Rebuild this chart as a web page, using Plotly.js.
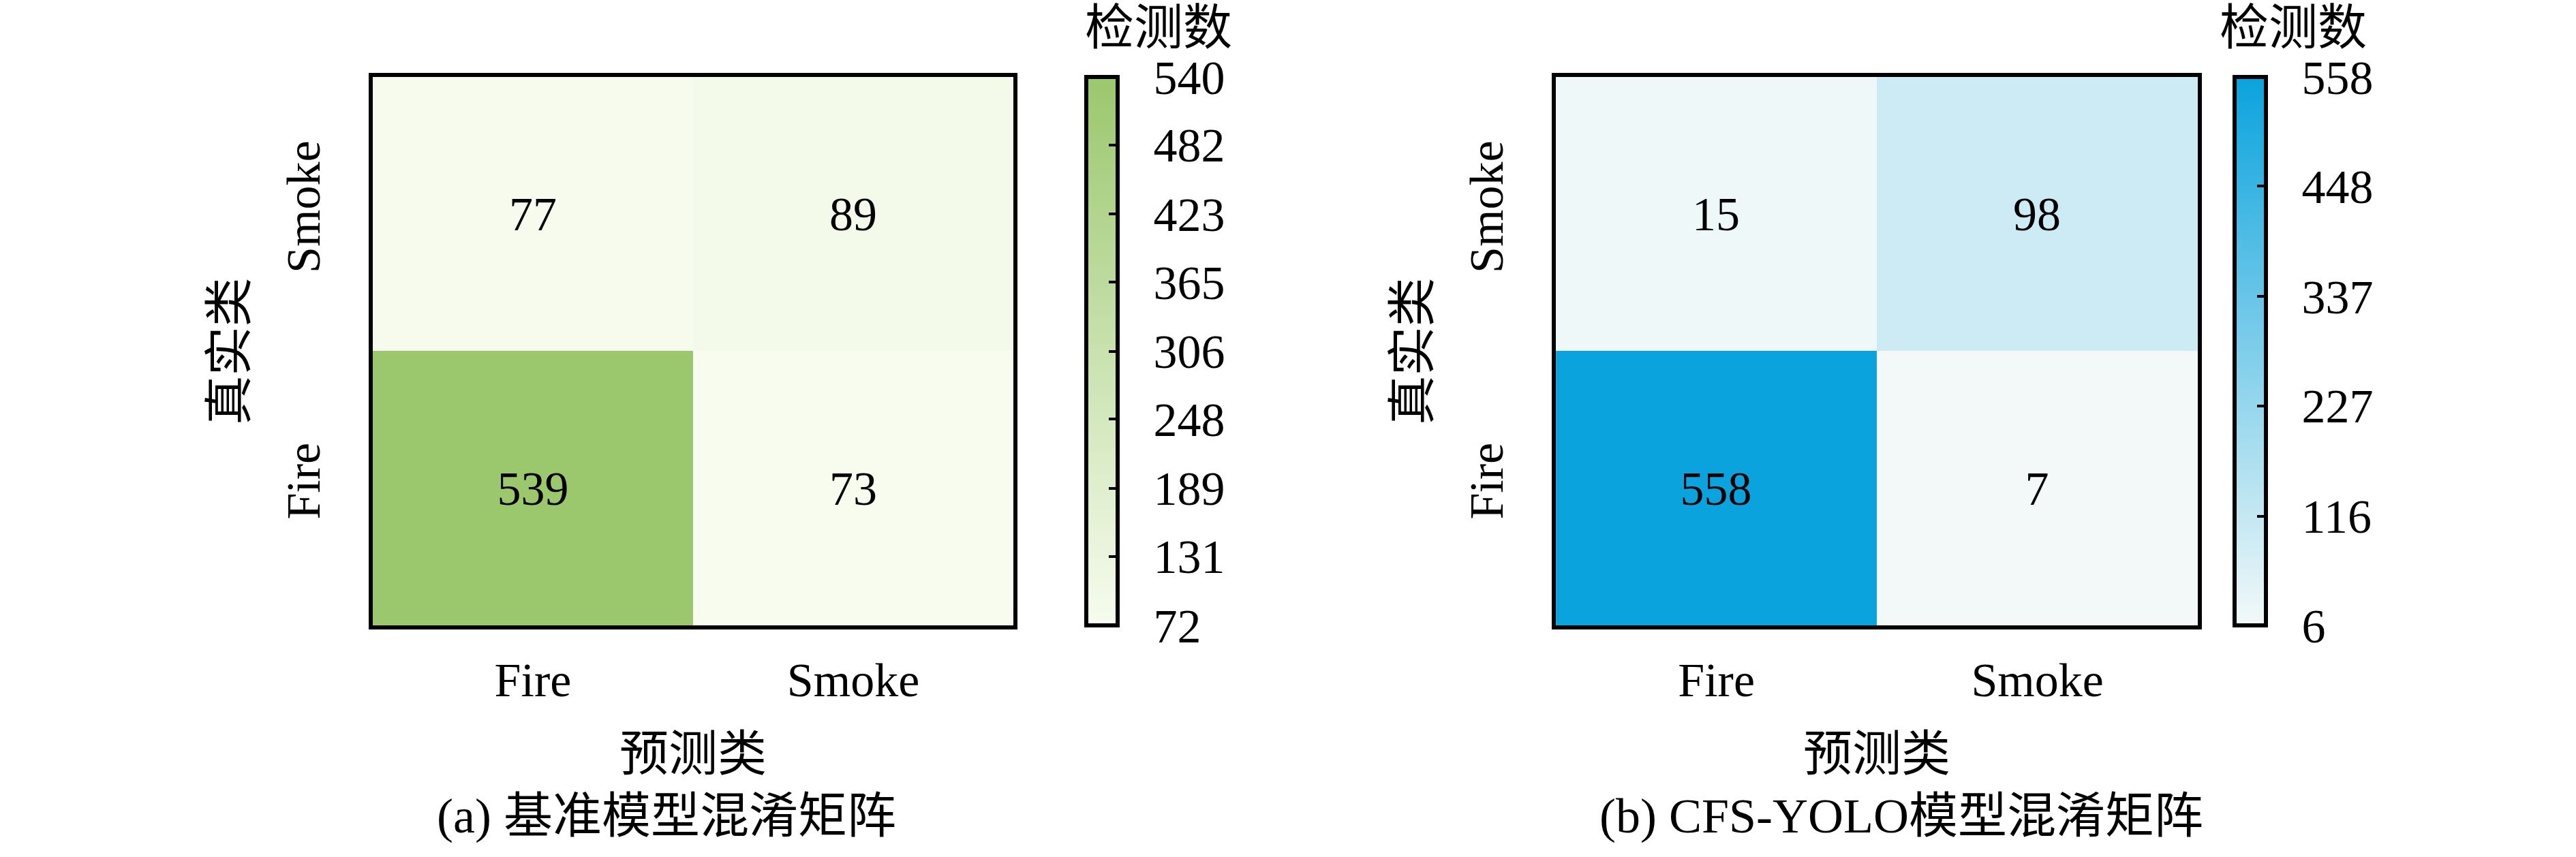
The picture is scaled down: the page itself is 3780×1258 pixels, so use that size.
<!DOCTYPE html>
<html>
<head>
<meta charset="utf-8">
<script src="https://cdn.plot.ly/plotly-3.0.1.min.js"></script>
<style>
  body { margin: 0; background: #fff; }
  #chart { width: 3780px; height: 1258px; }
</style>
</head>
<body>
<div id="chart"></div>
<script>
// categories (predicted on x, true on y; Fire drawn at the bottom)
const classes = ['Fire', 'Smoke'];

// confusion matrices, rows = true class [Fire, Smoke]
const baseCounts = [[539, 73], [77, 89]];
const cfsCounts = [[558, 7], [15, 98]];

// colorbar ticks
const baseTicks = [72, 131, 189, 248, 306, 365, 423, 482, 540];
const cfsTicks = [6, 116, 227, 337, 448, 558];

const baseScale = [[0, '#f7fcef'], [1, '#9bc76d']];
const cfsScale = [[0, '#f3f9f8'], [1, '#0aa3dd']];

const FONT = '"Liberation Serif", "Noto Sans CJK SC", serif';
const FS = 70;     // latin text
const FS_CJK = 72; // chinese labels
const pad = '\u00a0\u00a0';

function heat(z, xa, ya, ca) {
  return {
    type: 'heatmap', x: classes, y: classes, z: z,
    xaxis: xa, yaxis: ya, coloraxis: ca,
    texttemplate: '%{z}', textfont: { family: FONT, size: FS, color: '#000' },
    hoverinfo: 'skip'
  };
}

function cbar(x, ticks) {
  return {
    x: x, xanchor: 'left', y: 0.5902, yanchor: 'middle',
    len: 805, lenmode: 'pixels', thickness: 46,
    outlinewidth: 6, outlinecolor: '#000', xpad: 0, ypad: 0,
    ticks: 'inside', ticklen: 16, tickwidth: 4, tickcolor: '#000',
    tickvals: ticks, ticktext: ticks.map(t => pad + t),
    tickfont: { family: FONT, size: FS, color: '#000' }
  };
}

function xax(domain, anchor) {
  return {
    domain: domain, anchor: anchor, type: 'category',
    showline: true, mirror: true, linewidth: 6, linecolor: '#000',
    ticks: '', showgrid: false, zeroline: false, ticklabelstandoff: 14,
    tickfont: { family: FONT, size: FS, color: '#000' },
    title: { text: '预测类', font: { family: FONT, size: FS_CJK, color: '#000' }, standoff: 47 }
  };
}

function yax(anchor) {
  return {
    domain: [0.2703, 0.9102], anchor: anchor, type: 'category',
    showline: true, mirror: true, linewidth: 6, linecolor: '#000',
    ticks: '', showgrid: false, zeroline: false, tickangle: -90, ticklabelstandoff: 44,
    tickfont: { family: FONT, size: FS, color: '#000' },
    title: { text: '真实类', font: { family: FONT, size: FS_CJK, color: '#000' }, standoff: 24 }
  };
}

function note(text, x, y) {
  return {
    text: text, xref: 'paper', yref: 'paper', x: x, y: y,
    xanchor: 'center', yanchor: 'middle', showarrow: false,
    font: { family: FONT, size: FS_CJK, color: '#000' }
  };
}

const data = [
  heat(baseCounts, 'x', 'y', 'coloraxis'),
  heat(cfsCounts, 'x2', 'y2', 'coloraxis2')
];

const layout = {
  width: 3780, height: 1258,
  margin: { l: 0, r: 0, t: 0, b: 0 },
  paper_bgcolor: '#fff', plot_bgcolor: '#fff',
  font: { family: FONT, size: FS, color: '#000' },
  xaxis: xax([0.1447, 0.3934], 'y'),
  yaxis: yax('x'),
  xaxis2: xax([0.604, 0.8532], 'y2'),
  yaxis2: yax('x2'),
  coloraxis: { cmin: 72, cmax: 540, colorscale: baseScale, colorbar: cbar(0.4217, baseTicks) },
  coloraxis2: { cmin: 6, cmax: 558, colorscale: cfsScale, colorbar: cbar(0.8675, cfsTicks) },
  annotations: [
    note('检测数', 0.4497, 0.9674),
    note('检测数', 0.8902, 0.9674),
    note('(a) 基准模型混淆矩阵', 0.2587, 0.0477),
    note('(b) CFS-YOLO模型混淆矩阵', 0.7381, 0.0477)
  ]
};

Plotly.newPlot('chart', data, layout, { staticPlot: true });
</script>
</body>
</html>
